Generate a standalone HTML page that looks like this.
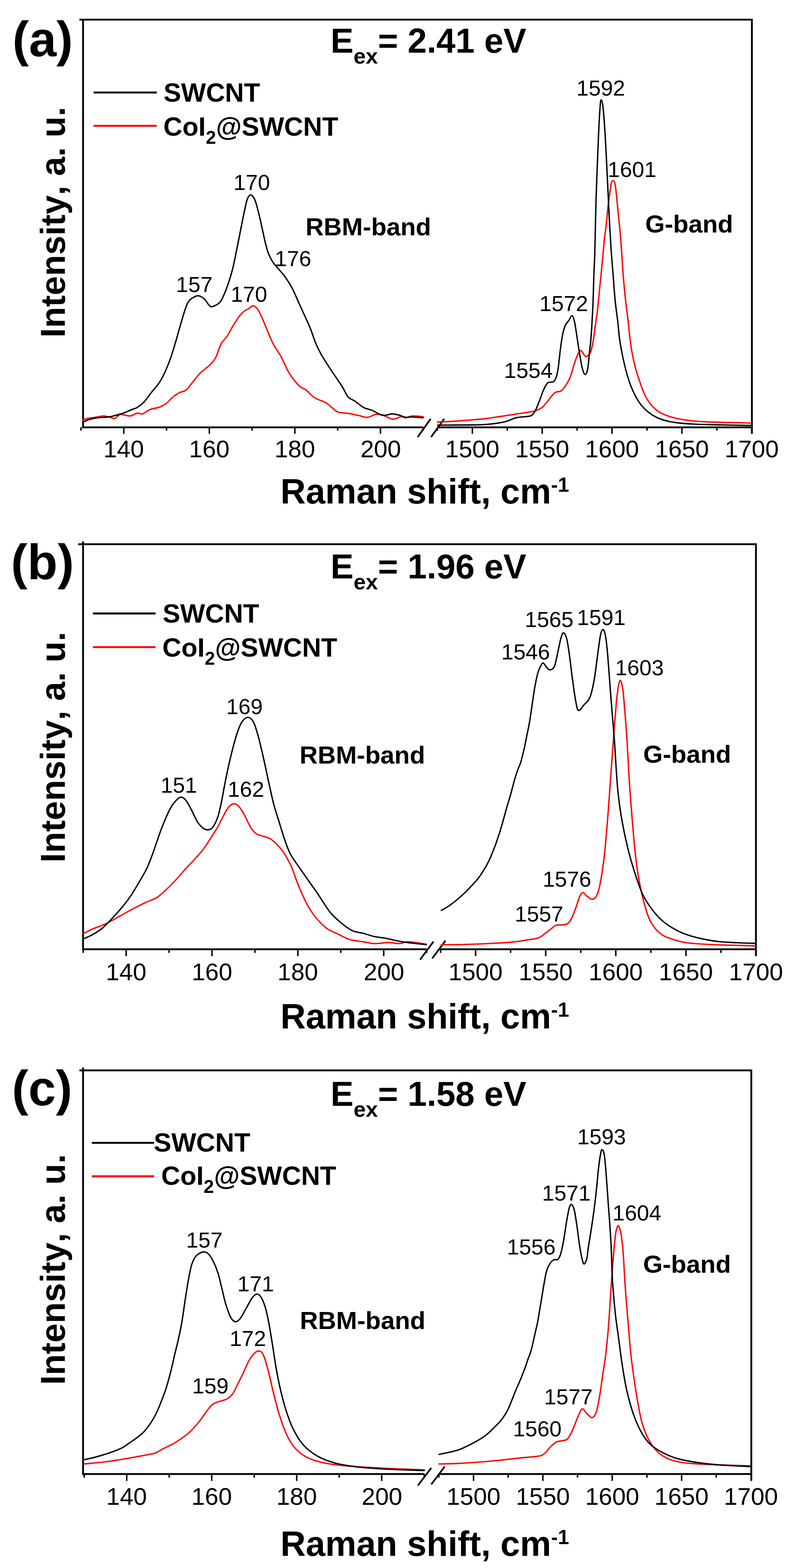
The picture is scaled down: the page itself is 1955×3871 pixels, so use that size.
<!DOCTYPE html><html><head><meta charset="utf-8"><title>Raman spectra</title><style>html,body{margin:0;padding:0;background:#fff;}body{width:1955px;height:3871px;}svg{display:block;}text{font-family:"Liberation Sans", Arial, sans-serif;font-kerning:none;fill:#000;}</style></head><body>
<svg width="1955" height="3871" viewBox="0 0 1955 3871">
<rect width="100%" height="100%" fill="#fff"/>
<line x1="196.0" y1="48.5" x2="1858.2" y2="48.5" stroke="#000" stroke-width="4.5" stroke-linecap="butt"/>
<line x1="205.0" y1="48.5" x2="205.0" y2="1057.2" stroke="#000" stroke-width="4.5" stroke-linecap="butt"/>
<line x1="1856.0" y1="48.5" x2="1856.0" y2="1071.0" stroke="#000" stroke-width="4.5" stroke-linecap="butt"/>
<line x1="202.8" y1="1055.0" x2="1044.5" y2="1055.0" stroke="#000" stroke-width="4.5" stroke-linecap="butt"/>
<line x1="1080.0" y1="1055.0" x2="1856.0" y2="1055.0" stroke="#000" stroke-width="4.5" stroke-linecap="butt"/>
<line x1="199.9" y1="1055.0" x2="199.9" y2="1063.0" stroke="#000" stroke-width="3.6" stroke-linecap="butt"/>
<line x1="305.5" y1="1055.0" x2="305.5" y2="1071.0" stroke="#000" stroke-width="3.6" stroke-linecap="butt"/>
<text x="255.3" y="1129.0" font-size="60.0">140</text>
<line x1="411.1" y1="1055.0" x2="411.1" y2="1063.0" stroke="#000" stroke-width="3.6" stroke-linecap="butt"/>
<line x1="516.7" y1="1055.0" x2="516.7" y2="1071.0" stroke="#000" stroke-width="3.6" stroke-linecap="butt"/>
<text x="466.5" y="1129.0" font-size="60.0">160</text>
<line x1="622.3" y1="1055.0" x2="622.3" y2="1063.0" stroke="#000" stroke-width="3.6" stroke-linecap="butt"/>
<line x1="727.9" y1="1055.0" x2="727.9" y2="1071.0" stroke="#000" stroke-width="3.6" stroke-linecap="butt"/>
<text x="677.7" y="1129.0" font-size="60.0">180</text>
<line x1="833.5" y1="1055.0" x2="833.5" y2="1063.0" stroke="#000" stroke-width="3.6" stroke-linecap="butt"/>
<line x1="939.1" y1="1055.0" x2="939.1" y2="1071.0" stroke="#000" stroke-width="3.6" stroke-linecap="butt"/>
<text x="889.7" y="1129.0" font-size="60.0">200</text>
<line x1="1044.7" y1="1055.0" x2="1044.7" y2="1063.0" stroke="#000" stroke-width="3.6" stroke-linecap="butt"/>
<line x1="1079.8" y1="1055.0" x2="1079.8" y2="1063.0" stroke="#000" stroke-width="3.6" stroke-linecap="butt"/>
<line x1="1166.0" y1="1055.0" x2="1166.0" y2="1071.0" stroke="#000" stroke-width="3.6" stroke-linecap="butt"/>
<text x="1099.1" y="1129.0" font-size="60.0">1500</text>
<line x1="1252.2" y1="1055.0" x2="1252.2" y2="1063.0" stroke="#000" stroke-width="3.6" stroke-linecap="butt"/>
<line x1="1338.4" y1="1055.0" x2="1338.4" y2="1071.0" stroke="#000" stroke-width="3.6" stroke-linecap="butt"/>
<text x="1271.6" y="1129.0" font-size="60.0">1550</text>
<line x1="1424.6" y1="1055.0" x2="1424.6" y2="1063.0" stroke="#000" stroke-width="3.6" stroke-linecap="butt"/>
<line x1="1510.8" y1="1055.0" x2="1510.8" y2="1071.0" stroke="#000" stroke-width="3.6" stroke-linecap="butt"/>
<text x="1444.0" y="1129.0" font-size="60.0">1600</text>
<line x1="1597.1" y1="1055.0" x2="1597.1" y2="1063.0" stroke="#000" stroke-width="3.6" stroke-linecap="butt"/>
<line x1="1683.3" y1="1055.0" x2="1683.3" y2="1071.0" stroke="#000" stroke-width="3.6" stroke-linecap="butt"/>
<text x="1616.4" y="1129.0" font-size="60.0">1650</text>
<line x1="1769.5" y1="1055.0" x2="1769.5" y2="1063.0" stroke="#000" stroke-width="3.6" stroke-linecap="butt"/>
<text x="1788.8" y="1129.0" font-size="60.0">1700</text>
<line x1="1031.0" y1="1079.0" x2="1063.0" y2="1034.0" stroke="#000" stroke-width="4.2" stroke-linecap="butt"/>
<line x1="1064.0" y1="1079.0" x2="1096.5" y2="1034.0" stroke="#000" stroke-width="4.2" stroke-linecap="butt"/>
<path d="M205.0,1036.5 C207.1,1035.9 212.4,1033.8 217.3,1032.8 C222.2,1031.8 228.3,1031.3 234.6,1030.3 C240.9,1029.3 249.5,1027.1 255.3,1026.9 C261.1,1026.7 264.6,1028.3 269.2,1029.3 C273.8,1030.3 278.4,1034.1 283.0,1033.1 C287.6,1032.1 290.5,1024.4 296.9,1023.4 C303.2,1022.4 314.2,1027.5 321.1,1026.9 C328.0,1026.3 333.2,1020.9 338.4,1020.0 C343.6,1019.1 347.0,1023.2 352.2,1021.7 C357.4,1020.2 362.6,1014.1 369.5,1011.3 C376.4,1008.5 386.8,1007.7 393.7,1005.1 C400.6,1002.5 405.8,999.6 411.0,995.7 C416.2,991.8 419.6,986.2 424.8,981.9 C430.0,977.6 436.3,973.0 442.1,969.8 C447.9,966.6 453.6,967.5 459.4,962.9 C465.2,958.3 470.9,949.0 476.7,942.1 C482.5,935.2 487.1,928.3 494.0,921.4 C500.9,914.5 511.9,907.0 518.2,900.6 C524.6,894.2 527.5,891.9 532.1,883.3 C536.7,874.6 541.3,857.4 545.9,848.7 C550.5,840.1 555.1,838.3 559.7,831.4 C564.3,824.5 568.4,815.7 573.6,807.2 C578.8,798.7 586.0,787.0 590.9,780.5 C595.8,774.0 599.1,771.1 603.0,768.0 C606.9,764.9 610.5,764.2 614.0,762.0 C617.5,759.8 620.6,755.1 624.0,755.0 C627.4,754.9 631.1,757.2 634.6,761.5 C638.1,765.8 641.5,773.3 645.0,780.5 C648.5,787.7 651.8,796.5 655.3,804.7 C658.8,813.0 662.2,822.1 665.7,830.0 C669.2,837.9 671.5,843.9 676.1,852.2 C680.7,860.5 687.1,868.4 693.4,879.9 C699.7,891.4 706.6,909.3 714.1,921.4 C721.6,933.5 731.5,945.6 738.4,952.5 C745.3,959.4 749.4,958.0 755.7,962.9 C762.0,967.8 768.3,976.7 776.4,981.9 C784.5,987.1 796.6,989.7 804.1,994.0 C811.6,998.3 816.2,1003.9 821.4,1007.8 C826.6,1011.7 828.3,1015.3 835.2,1017.5 C842.1,1019.7 854.2,1019.5 862.9,1021.0 C871.5,1022.5 879.6,1024.7 887.1,1026.2 C894.6,1027.8 900.9,1030.9 907.8,1030.3 C914.7,1029.7 921.7,1023.3 928.6,1022.7 C935.5,1022.1 942.5,1024.9 949.4,1026.9 C956.3,1028.9 963.2,1034.5 970.1,1034.8 C977.0,1035.1 985.7,1029.2 990.9,1028.6 C996.1,1028.0 996.6,1031.7 1001.2,1031.4 C1005.8,1031.1 1011.3,1027.4 1018.5,1026.9 C1025.7,1026.4 1040.2,1028.3 1044.5,1028.6" fill="none" stroke="#ff0000" stroke-width="3.4" stroke-linejoin="round" stroke-linecap="round"/>
<path d="M205.0,1042.4 C207.6,1041.2 214.7,1037.3 220.8,1035.5 C226.9,1033.7 233.4,1032.4 241.5,1031.4 C249.6,1030.4 261.7,1030.3 269.2,1029.3 C276.7,1028.2 280.2,1026.8 286.5,1025.1 C292.8,1023.4 300.9,1021.2 307.2,1018.9 C313.5,1016.6 319.3,1013.4 324.5,1011.3 C329.7,1009.2 333.2,1009.3 338.4,1006.1 C343.6,1002.9 349.9,998.3 355.7,992.3 C361.5,986.2 366.7,977.9 373.0,969.8 C379.3,961.7 387.9,952.5 393.7,943.9 C399.4,935.2 402.9,928.0 407.5,917.9 C412.1,907.8 416.8,896.5 421.4,883.3 C426.0,870.0 430.6,854.0 435.2,838.4 C439.8,822.8 444.4,804.9 449.0,789.9 C453.6,774.9 458.3,757.6 462.9,748.4 C467.5,739.2 472.1,737.6 476.7,734.6 C481.3,731.6 486.0,729.8 490.6,730.4 C495.2,731.0 500.4,734.4 504.4,738.0 C508.4,741.6 511.6,748.7 514.8,751.9 C518.0,755.1 518.8,758.0 523.4,757.1 C528.0,756.2 537.5,751.6 542.4,746.7 C547.3,741.8 549.3,735.3 552.8,727.7 C556.3,720.1 559.7,711.1 563.2,700.9 C566.7,690.7 570.7,677.2 573.6,666.3 C576.5,655.3 577.6,649.0 580.5,635.2 C583.4,621.4 587.4,600.6 590.9,583.3 C594.4,566.0 598.0,546.4 601.2,531.4 C604.4,516.4 607.1,501.8 609.9,493.4 C612.7,485.0 615.1,481.9 618.0,481.3 C620.9,480.7 624.7,485.0 627.5,489.9 C630.3,494.8 632.3,502.6 634.6,510.7 C636.9,518.8 639.2,528.6 641.5,538.4 C643.8,548.2 646.1,559.1 648.4,569.5 C650.7,579.9 653.0,591.4 655.3,600.6 C657.6,609.8 659.4,617.3 662.3,624.8 C665.2,632.3 668.6,639.2 672.6,645.6 C676.6,652.0 681.3,656.6 686.5,662.9 C691.7,669.2 698.0,675.5 703.8,683.6 C709.6,691.7 715.3,700.3 721.1,711.3 C726.9,722.3 732.6,736.7 738.4,749.4 C744.2,762.1 751.1,777.2 755.7,787.4 C760.3,797.6 762.0,800.5 766.0,810.7 C770.0,820.9 775.3,837.8 779.9,848.7 C784.5,859.7 788.5,867.2 793.7,876.4 C798.9,885.6 805.2,895.2 811.0,904.1 C816.8,913.0 822.5,921.4 828.3,930.0 C834.1,938.6 840.4,947.6 845.6,956.0 C850.8,964.4 854.2,974.4 859.4,980.2 C864.6,986.0 870.4,986.3 876.7,990.6 C883.1,994.9 890.6,1002.4 897.5,1006.1 C904.4,1009.8 911.3,1010.1 918.2,1013.0 C925.1,1015.9 933.2,1021.4 939.0,1023.4 C944.8,1025.4 948.2,1025.4 952.8,1025.1 C957.4,1024.8 961.5,1021.8 966.7,1021.7 C971.9,1021.6 978.1,1023.1 983.9,1024.5 C989.6,1025.9 996.0,1029.5 1001.2,1030.3 C1006.4,1031.1 1007.9,1029.1 1015.1,1029.3 C1022.3,1029.5 1039.6,1031.1 1044.5,1031.4" fill="none" stroke="#000000" stroke-width="3.4" stroke-linejoin="round" stroke-linecap="round"/>
<path d="M1080.0,1041.8 C1086.7,1041.5 1106.7,1040.8 1120.0,1040.0 C1133.3,1039.2 1146.7,1038.1 1160.0,1037.0 C1173.3,1035.9 1187.6,1034.8 1200.0,1033.3 C1212.4,1031.8 1223.1,1029.9 1234.6,1028.2 C1246.1,1026.5 1257.7,1024.7 1269.2,1023.0 C1280.7,1021.3 1295.2,1019.2 1303.8,1017.8 C1312.4,1016.3 1315.3,1016.3 1321.1,1014.3 C1326.9,1012.3 1333.2,1009.7 1338.4,1005.7 C1343.6,1001.7 1347.0,996.2 1352.2,990.1 C1357.4,984.0 1364.3,973.4 1369.5,969.4 C1374.7,965.4 1379.3,968.2 1383.3,965.9 C1387.3,963.6 1389.7,961.3 1393.7,955.5 C1397.7,949.7 1403.5,941.1 1407.5,931.3 C1411.5,921.5 1414.4,906.8 1417.9,896.7 C1421.4,886.6 1425.4,875.9 1428.3,870.8 C1431.2,865.7 1432.3,864.8 1435.2,866.3 C1438.1,867.8 1442.1,879.1 1445.6,880.1 C1449.1,881.1 1453.5,875.9 1456.0,872.5 C1458.5,869.1 1459.1,865.4 1460.5,860.0 C1461.9,854.6 1463.3,848.0 1464.6,840.0 C1465.9,832.0 1466.7,823.9 1468.3,812.1 C1469.9,800.3 1472.6,784.5 1474.4,769.1 C1476.2,753.7 1477.8,736.3 1479.4,719.9 C1481.1,703.5 1482.9,684.9 1484.3,670.7 C1485.7,656.6 1486.7,646.8 1487.8,635.0 C1488.9,623.2 1490.1,609.0 1491.0,600.0 C1491.9,591.0 1492.3,587.4 1493.1,580.7 C1493.9,574.0 1495.1,566.8 1495.9,559.8 C1496.7,552.8 1497.2,547.0 1498.0,538.8 C1498.8,530.6 1499.8,519.0 1500.7,510.8 C1501.6,502.7 1502.6,496.9 1503.5,489.9 C1504.4,482.9 1505.4,475.3 1506.3,468.9 C1507.2,462.5 1507.9,455.2 1509.1,451.4 C1510.3,447.6 1511.9,445.9 1513.3,445.9 C1514.7,445.9 1516.3,447.6 1517.5,451.4 C1518.7,455.2 1519.5,462.5 1520.3,468.9 C1521.1,475.3 1521.7,482.9 1522.4,489.9 C1523.1,496.9 1523.8,503.8 1524.5,510.8 C1525.2,517.8 1525.9,524.8 1526.6,531.8 C1527.3,538.8 1528.0,545.8 1528.7,552.8 C1529.4,559.8 1530.1,565.8 1530.8,573.7 C1531.5,581.6 1532.3,592.0 1532.9,600.0 C1533.5,608.0 1533.5,607.7 1534.5,621.5 C1535.5,635.3 1536.9,662.5 1538.6,683.0 C1540.3,703.5 1542.5,726.0 1544.5,744.5 C1546.5,763.0 1548.9,777.8 1550.7,793.7 C1552.5,809.6 1553.9,826.5 1555.6,840.0 C1557.3,853.5 1558.9,863.7 1561.0,875.0 C1563.1,886.3 1565.5,897.0 1568.3,907.6 C1571.1,918.2 1574.5,928.1 1577.9,938.4 C1581.4,948.6 1585.0,960.1 1589.0,969.1 C1593.0,978.1 1596.8,985.2 1601.8,992.2 C1606.8,999.2 1613.6,1006.6 1619.1,1011.4 C1624.5,1016.2 1628.7,1018.1 1634.5,1021.0 C1640.3,1023.9 1645.7,1026.3 1653.7,1028.7 C1661.7,1031.1 1673.0,1033.7 1682.6,1035.4 C1692.2,1037.2 1700.2,1038.2 1711.4,1039.2 C1722.6,1040.2 1726.2,1040.8 1749.8,1041.7 C1773.4,1042.6 1836.0,1044.0 1853.3,1044.4" fill="none" stroke="#ff0000" stroke-width="3.4" stroke-linejoin="round" stroke-linecap="round"/>
<path d="M1080.0,1049.6 C1086.7,1049.5 1106.0,1049.4 1120.0,1049.3 C1134.0,1049.2 1150.7,1049.2 1164.0,1049.0 C1177.3,1048.8 1189.4,1048.6 1200.0,1047.9 C1210.6,1047.2 1219.0,1046.2 1227.7,1044.8 C1236.4,1043.4 1244.4,1041.8 1251.9,1039.6 C1259.4,1037.4 1266.3,1033.3 1272.6,1031.6 C1278.9,1029.9 1283.6,1030.1 1289.9,1029.2 C1296.2,1028.3 1305.5,1028.9 1310.7,1026.4 C1315.9,1023.9 1317.6,1020.3 1321.1,1014.3 C1324.5,1008.2 1328.0,998.8 1331.4,990.1 C1334.9,981.5 1338.3,969.9 1341.8,962.4 C1345.3,954.9 1348.2,948.4 1352.2,945.1 C1356.2,941.8 1362.5,944.7 1366.0,942.4 C1369.5,940.1 1371.0,937.2 1373.0,931.3 C1375.0,925.4 1376.4,918.6 1378.1,907.1 C1379.8,895.6 1381.6,875.4 1383.3,862.1 C1385.0,848.8 1386.5,837.3 1388.5,827.5 C1390.5,817.7 1392.8,809.3 1395.4,803.3 C1398.0,797.2 1401.4,795.2 1404.1,791.2 C1406.8,787.2 1409.4,778.8 1411.7,779.1 C1414.0,779.4 1416.0,785.5 1417.9,793.0 C1419.8,800.5 1421.1,811.4 1423.1,824.1 C1425.1,836.8 1427.7,855.2 1430.0,869.0 C1432.3,882.8 1434.6,897.9 1436.9,907.1 C1439.2,916.3 1441.6,923.8 1443.9,924.4 C1446.2,925.0 1448.9,920.5 1450.8,910.6 C1452.7,900.7 1454.2,876.8 1455.5,865.0 C1456.8,853.2 1457.4,851.9 1458.4,840.0 C1459.4,828.1 1460.6,809.6 1461.5,793.7 C1462.4,777.8 1463.3,763.0 1464.0,744.5 C1464.7,726.0 1465.1,703.5 1465.8,683.0 C1466.5,662.5 1467.4,653.5 1468.3,621.5 C1469.2,589.5 1470.0,536.1 1471.4,491.3 C1472.8,446.5 1475.0,390.4 1476.6,352.9 C1478.2,315.4 1479.8,284.2 1481.1,266.5 C1482.4,248.8 1482.9,246.4 1484.2,246.4 C1485.5,246.4 1487.1,251.6 1488.7,266.5 C1490.3,281.4 1492.3,309.8 1493.9,335.7 C1495.5,361.6 1497.0,393.3 1498.4,422.1 C1499.8,450.9 1501.4,485.6 1502.5,508.6 C1503.6,531.6 1504.1,541.2 1505.2,560.0 C1506.3,578.8 1507.5,601.0 1508.9,621.5 C1510.3,642.0 1512.2,662.5 1513.8,683.0 C1515.4,703.5 1516.8,726.0 1518.7,744.5 C1520.6,763.0 1523.1,777.8 1524.9,793.7 C1526.8,809.6 1527.5,824.5 1529.8,840.0 C1532.0,855.5 1535.4,872.4 1538.4,886.5 C1541.4,900.6 1544.8,913.7 1548.0,924.9 C1551.2,936.1 1554.1,944.7 1557.6,953.7 C1561.1,962.7 1565.0,971.0 1569.2,978.7 C1573.4,986.4 1577.5,993.4 1582.6,999.8 C1587.7,1006.2 1593.5,1012.0 1599.9,1017.1 C1606.3,1022.2 1613.4,1026.9 1621.1,1030.6 C1628.8,1034.3 1637.3,1037.0 1646.0,1039.2 C1654.7,1041.4 1662.1,1042.7 1673.0,1044.0 C1683.9,1045.3 1698.6,1046.2 1711.4,1046.9 C1724.2,1047.6 1726.2,1047.7 1749.8,1048.3 C1773.4,1048.9 1836.0,1050.1 1853.3,1050.4" fill="none" stroke="#000000" stroke-width="3.4" stroke-linejoin="round" stroke-linecap="round"/>
<line x1="231.0" y1="228.3" x2="387.0" y2="228.3" stroke="#000" stroke-width="4.8" stroke-linecap="butt"/>
<line x1="231.0" y1="310.7" x2="387.0" y2="310.7" stroke="#ff0000" stroke-width="4.8" stroke-linecap="butt"/>
<text x="403.7" y="250.8" font-size="65.0" font-weight="bold">SWCNT</text>
<text x="403.2" y="334.5" font-size="65" font-weight="bold">CoI<tspan font-size="45.5" dy="20">2</tspan><tspan dy="-20">@SWCNT</tspan></text>
<text x="816.1" y="130.3" font-size="85" font-weight="bold">E<tspan font-size="54" dy="27">ex</tspan><tspan dy="-27">= 2.41 eV</tspan></text>
<text x="30.8" y="138.5" font-size="122.0" font-weight="bold">(a)</text>
<text transform="translate(160,548.5) rotate(-90)" text-anchor="middle" font-size="85.5" font-weight="bold">Intensity, a. u.</text>
<text x="692.2" y="1243.3" font-size="86.5" font-weight="bold">Raman shift, cm<tspan font-size="50" dy="-29">-1</tspan></text>
<text x="754.3" y="580.6" font-size="62.0" font-weight="bold">RBM-band</text>
<text x="1592.7" y="574.3" font-size="62.0" font-weight="bold">G-band</text>
<text x="576.4" y="468.7" font-size="54.0">170</text>
<text x="434.6" y="720.5" font-size="54.0">157</text>
<text x="678.2" y="657.2" font-size="54.0">176</text>
<text x="569.5" y="745.4" font-size="54.0">170</text>
<text x="1423.0" y="235.5" font-size="54.0">1592</text>
<text x="1500.1" y="437.2" font-size="54.0">1601</text>
<text x="1331.5" y="768.2" font-size="54.0">1572</text>
<text x="1244.3" y="932.5" font-size="54.0">1554</text>
<line x1="193.0" y1="1343.4" x2="1868.2" y2="1343.4" stroke="#000" stroke-width="4.5" stroke-linecap="butt"/>
<line x1="205.0" y1="1336.4" x2="205.0" y2="2345.8" stroke="#000" stroke-width="4.5" stroke-linecap="butt"/>
<line x1="1866.0" y1="1343.4" x2="1866.0" y2="2360.5" stroke="#000" stroke-width="4.5" stroke-linecap="butt"/>
<line x1="202.8" y1="2343.5" x2="1052.5" y2="2343.5" stroke="#000" stroke-width="4.5" stroke-linecap="butt"/>
<line x1="1087.5" y1="2343.5" x2="1866.0" y2="2343.5" stroke="#000" stroke-width="4.5" stroke-linecap="butt"/>
<line x1="205.4" y1="2343.5" x2="205.4" y2="2352.5" stroke="#000" stroke-width="3.6" stroke-linecap="butt"/>
<line x1="311.4" y1="2343.5" x2="311.4" y2="2360.5" stroke="#000" stroke-width="3.6" stroke-linecap="butt"/>
<text x="261.2" y="2419.8" font-size="60.0">140</text>
<line x1="417.4" y1="2343.5" x2="417.4" y2="2352.5" stroke="#000" stroke-width="3.6" stroke-linecap="butt"/>
<line x1="523.3" y1="2343.5" x2="523.3" y2="2360.5" stroke="#000" stroke-width="3.6" stroke-linecap="butt"/>
<text x="473.2" y="2419.8" font-size="60.0">160</text>
<line x1="629.3" y1="2343.5" x2="629.3" y2="2352.5" stroke="#000" stroke-width="3.6" stroke-linecap="butt"/>
<line x1="735.3" y1="2343.5" x2="735.3" y2="2360.5" stroke="#000" stroke-width="3.6" stroke-linecap="butt"/>
<text x="685.1" y="2419.8" font-size="60.0">180</text>
<line x1="841.2" y1="2343.5" x2="841.2" y2="2352.5" stroke="#000" stroke-width="3.6" stroke-linecap="butt"/>
<line x1="947.2" y1="2343.5" x2="947.2" y2="2360.5" stroke="#000" stroke-width="3.6" stroke-linecap="butt"/>
<text x="897.8" y="2419.8" font-size="60.0">200</text>
<line x1="1053.2" y1="2343.5" x2="1053.2" y2="2352.5" stroke="#000" stroke-width="3.6" stroke-linecap="butt"/>
<line x1="1087.5" y1="2343.5" x2="1087.5" y2="2352.5" stroke="#000" stroke-width="3.6" stroke-linecap="butt"/>
<line x1="1174.0" y1="2343.5" x2="1174.0" y2="2360.5" stroke="#000" stroke-width="3.6" stroke-linecap="butt"/>
<text x="1107.1" y="2419.8" font-size="60.0">1500</text>
<line x1="1260.5" y1="2343.5" x2="1260.5" y2="2352.5" stroke="#000" stroke-width="3.6" stroke-linecap="butt"/>
<line x1="1347.0" y1="2343.5" x2="1347.0" y2="2360.5" stroke="#000" stroke-width="3.6" stroke-linecap="butt"/>
<text x="1280.2" y="2419.8" font-size="60.0">1550</text>
<line x1="1433.6" y1="2343.5" x2="1433.6" y2="2352.5" stroke="#000" stroke-width="3.6" stroke-linecap="butt"/>
<line x1="1520.1" y1="2343.5" x2="1520.1" y2="2360.5" stroke="#000" stroke-width="3.6" stroke-linecap="butt"/>
<text x="1453.2" y="2419.8" font-size="60.0">1600</text>
<line x1="1606.6" y1="2343.5" x2="1606.6" y2="2352.5" stroke="#000" stroke-width="3.6" stroke-linecap="butt"/>
<line x1="1693.2" y1="2343.5" x2="1693.2" y2="2360.5" stroke="#000" stroke-width="3.6" stroke-linecap="butt"/>
<text x="1626.3" y="2419.8" font-size="60.0">1650</text>
<line x1="1779.7" y1="2343.5" x2="1779.7" y2="2352.5" stroke="#000" stroke-width="3.6" stroke-linecap="butt"/>
<text x="1799.3" y="2419.8" font-size="60.0">1700</text>
<line x1="1037.0" y1="2369.0" x2="1070.0" y2="2324.6" stroke="#000" stroke-width="4.2" stroke-linecap="butt"/>
<line x1="1067.0" y1="2366.0" x2="1099.6" y2="2322.3" stroke="#000" stroke-width="4.2" stroke-linecap="butt"/>
<path d="M205.2,2305.3 C208.9,2303.4 218.2,2298.1 227.7,2293.9 C237.2,2289.7 250.8,2285.5 262.3,2280.0 C273.8,2274.5 285.4,2267.3 296.9,2261.0 C308.4,2254.7 321.0,2247.5 331.4,2242.0 C341.8,2236.5 349.9,2232.4 359.1,2228.1 C368.3,2223.8 378.7,2220.9 386.8,2216.0 C394.9,2211.1 399.4,2206.2 407.5,2198.7 C415.6,2191.2 426.8,2180.0 435.2,2171.1 C443.6,2162.2 451.1,2152.6 458.0,2145.0 C464.9,2137.4 469.6,2133.4 476.7,2125.5 C483.8,2117.6 493.4,2107.6 500.9,2097.8 C508.4,2088.0 516.5,2074.7 521.7,2066.7 C526.9,2058.7 529.5,2054.1 532.1,2050.0 C534.7,2046.0 534.3,2047.7 537.2,2042.4 C540.1,2037.1 545.1,2026.3 549.4,2018.2 C553.7,2010.1 558.6,1999.7 563.2,1994.0 C567.8,1988.3 572.4,1984.6 577.0,1984.3 C581.6,1984.0 586.3,1987.2 590.9,1992.3 C595.5,1997.4 600.1,2006.4 604.7,2014.8 C609.3,2023.2 613.9,2035.2 618.5,2042.4 C623.1,2049.6 628.0,2054.5 632.4,2058.0 C636.8,2061.5 639.5,2061.2 645.0,2063.2 C650.5,2065.2 659.4,2066.6 665.7,2070.1 C672.0,2073.6 677.2,2078.1 683.0,2083.9 C688.8,2089.7 695.1,2097.2 700.3,2104.7 C705.5,2112.2 710.5,2122.0 714.1,2128.9 C717.7,2135.8 718.1,2136.1 722.0,2146.0 C725.9,2155.9 731.5,2173.8 737.6,2188.4 C743.7,2203.0 751.5,2220.6 758.4,2233.3 C765.3,2246.0 771.0,2254.7 779.1,2264.5 C787.2,2274.3 797.6,2285.2 806.8,2292.1 C816.0,2299.0 825.3,2301.5 834.5,2306.0 C843.7,2310.5 851.7,2315.9 862.1,2319.1 C872.5,2322.3 886.3,2323.3 896.7,2325.0 C907.1,2326.7 914.0,2329.2 924.4,2329.5 C934.8,2329.8 948.6,2326.7 959.0,2326.7 C969.4,2326.7 978.6,2329.8 986.7,2329.5 C994.8,2329.2 996.4,2324.8 1007.4,2325.0 C1018.4,2325.2 1044.9,2330.0 1052.4,2331.0" fill="none" stroke="#ff0000" stroke-width="3.4" stroke-linejoin="round" stroke-linecap="round"/>
<path d="M205.2,2318.1 C208.9,2316.4 219.9,2312.0 227.7,2307.7 C235.5,2303.4 243.8,2298.7 251.9,2292.1 C260.0,2285.5 267.5,2277.1 276.1,2267.9 C284.8,2258.7 295.7,2246.6 303.8,2236.8 C311.9,2227.0 317.6,2219.5 324.5,2209.1 C331.4,2198.7 338.9,2185.4 345.3,2174.5 C351.7,2163.6 357.4,2154.3 362.6,2143.4 C367.8,2132.5 372.1,2120.3 376.4,2108.8 C380.7,2097.3 385.0,2084.1 388.5,2074.2 C392.0,2064.3 392.9,2060.5 397.2,2049.4 C401.5,2038.3 409.3,2018.8 414.5,2007.8 C419.7,1996.8 423.1,1990.2 428.3,1983.6 C433.5,1977.0 440.4,1969.2 445.6,1968.1 C450.8,1966.9 454.8,1971.2 459.4,1976.7 C464.0,1982.2 468.7,1992.2 473.3,2000.9 C477.9,2009.6 482.5,2021.4 487.1,2028.6 C491.7,2035.8 496.6,2040.9 500.9,2044.2 C505.2,2047.5 509.0,2049.0 513.0,2048.7 C517.0,2048.4 521.1,2047.5 525.1,2042.4 C529.1,2037.3 533.7,2028.0 537.2,2018.2 C540.7,2008.4 542.7,1998.6 545.9,1983.6 C549.1,1968.6 552.8,1945.6 556.3,1928.3 C559.8,1911.0 563.2,1894.9 566.7,1879.9 C570.2,1864.9 573.5,1851.1 577.0,1838.4 C580.5,1825.7 583.9,1813.3 587.4,1803.8 C590.9,1794.3 593.7,1786.8 597.8,1781.3 C601.9,1775.8 607.3,1770.9 611.8,1770.9 C616.3,1770.9 621.1,1775.0 625.0,1781.3 C628.9,1787.6 631.7,1798.0 635.0,1809.0 C638.3,1820.0 641.4,1832.9 644.8,1847.0 C648.2,1861.1 651.8,1877.9 655.3,1893.7 C658.8,1909.5 662.2,1926.5 665.7,1942.1 C669.2,1957.7 672.1,1972.1 676.1,1987.1 C680.1,2002.1 685.4,2017.4 689.9,2032.1 C694.4,2046.8 698.9,2062.2 703.4,2075.0 C707.9,2087.8 711.2,2098.0 716.9,2108.8 C722.6,2119.6 730.1,2129.0 737.6,2139.9 C745.1,2150.8 753.7,2163.0 761.8,2174.5 C769.9,2186.0 777.4,2196.4 786.0,2209.1 C794.6,2221.8 805.1,2239.6 813.7,2250.6 C822.4,2261.6 828.7,2267.0 837.9,2274.8 C847.1,2282.6 859.2,2292.4 869.0,2297.3 C878.8,2302.2 887.5,2301.7 896.7,2304.2 C905.9,2306.7 915.2,2310.2 924.4,2312.2 C933.6,2314.2 942.3,2314.5 952.1,2316.3 C961.9,2318.2 972.2,2321.3 983.2,2323.3 C994.2,2325.3 1006.3,2327.0 1017.8,2328.4 C1029.3,2329.8 1046.6,2331.4 1052.4,2332.0" fill="none" stroke="#000000" stroke-width="3.4" stroke-linejoin="round" stroke-linecap="round"/>
<path d="M1089.0,2332.4 C1098.6,2332.3 1125.4,2332.3 1146.5,2331.7 C1167.6,2331.1 1195.5,2329.9 1215.7,2328.9 C1235.9,2327.9 1253.1,2326.9 1267.5,2325.5 C1281.9,2324.1 1291.7,2322.0 1302.1,2320.3 C1312.5,2318.6 1322.3,2318.0 1329.8,2315.1 C1337.3,2312.2 1341.9,2306.8 1347.1,2303.0 C1352.3,2299.2 1356.6,2295.8 1360.9,2292.6 C1365.2,2289.4 1368.4,2285.6 1373.0,2284.0 C1377.6,2282.4 1384.0,2283.9 1388.6,2283.3 C1393.2,2282.7 1397.2,2282.7 1400.7,2280.5 C1404.2,2278.3 1406.2,2275.9 1409.4,2270.1 C1412.6,2264.3 1416.0,2255.7 1419.7,2245.9 C1423.4,2236.1 1428.5,2218.3 1431.8,2211.3 C1435.1,2204.3 1437.2,2203.7 1439.8,2203.7 C1442.4,2203.7 1443.8,2208.6 1447.4,2211.3 C1451.0,2214.0 1457.2,2219.7 1461.2,2220.0 C1465.2,2220.3 1468.4,2218.5 1471.6,2213.0 C1474.8,2207.5 1477.1,2202.1 1480.3,2187.1 C1483.5,2172.1 1487.6,2146.3 1490.5,2123.0 C1493.4,2099.7 1495.6,2071.8 1497.8,2047.0 C1500.0,2022.2 1502.0,1993.5 1503.5,1974.0 C1505.0,1954.5 1505.5,1944.0 1506.5,1930.0 C1507.5,1916.0 1508.4,1904.5 1509.5,1890.0 C1510.6,1875.5 1511.5,1862.5 1513.0,1843.2 C1514.5,1823.9 1516.5,1795.3 1518.2,1774.0 C1519.9,1752.7 1521.4,1730.9 1523.4,1715.2 C1525.4,1699.5 1528.0,1682.2 1530.3,1679.9 C1532.6,1677.6 1535.2,1688.6 1537.2,1701.4 C1539.2,1714.2 1540.7,1736.0 1542.4,1756.7 C1544.1,1777.5 1546.0,1801.2 1547.6,1825.9 C1549.2,1850.6 1550.5,1879.8 1552.0,1905.0 C1553.5,1930.2 1554.8,1949.6 1556.9,1976.9 C1559.0,2004.2 1562.0,2041.9 1564.5,2069.1 C1567.0,2096.2 1568.9,2116.7 1572.2,2139.8 C1575.5,2162.9 1579.4,2186.0 1584.5,2207.5 C1589.6,2229.0 1595.8,2253.1 1603.0,2269.0 C1610.2,2284.9 1618.4,2294.6 1627.6,2302.8 C1636.8,2311.0 1647.0,2314.0 1658.3,2318.1 C1669.6,2322.2 1678.8,2325.1 1695.2,2327.4 C1711.6,2329.7 1728.5,2330.7 1756.7,2332.0 C1784.9,2333.3 1846.4,2334.5 1864.3,2335.0" fill="none" stroke="#ff0000" stroke-width="3.4" stroke-linejoin="round" stroke-linecap="round"/>
<path d="M1089.4,2247.6 C1093.2,2245.3 1103.5,2239.9 1111.9,2233.8 C1120.3,2227.8 1130.9,2219.1 1139.6,2211.3 C1148.2,2203.5 1156.3,2195.2 1163.8,2187.1 C1171.3,2179.0 1177.6,2172.7 1184.5,2162.9 C1191.4,2153.1 1199.0,2141.0 1205.3,2128.3 C1211.6,2115.6 1217.4,2100.6 1222.6,2086.8 C1227.8,2073.0 1231.7,2060.7 1236.4,2045.3 C1241.1,2029.9 1246.9,2007.5 1250.7,1994.3 C1254.5,1981.1 1256.4,1975.6 1259.1,1966.3 C1261.8,1957.0 1264.3,1946.9 1266.6,1938.4 C1268.9,1929.9 1270.9,1922.1 1273.1,1915.1 C1275.3,1908.1 1277.6,1901.9 1279.6,1896.5 C1281.6,1891.1 1282.9,1890.3 1285.2,1882.5 C1287.5,1874.7 1290.9,1861.6 1293.6,1849.9 C1296.2,1838.2 1298.8,1824.2 1301.1,1812.6 C1303.4,1800.9 1304.6,1798.5 1307.6,1780.0 C1310.6,1761.5 1315.9,1721.4 1319.3,1701.4 C1322.7,1681.4 1325.1,1670.0 1328.0,1659.9 C1330.9,1649.8 1334.3,1644.5 1336.6,1640.8 C1338.9,1637.0 1339.2,1635.7 1341.8,1637.4 C1344.4,1639.1 1349.0,1648.6 1352.2,1651.2 C1355.4,1653.8 1357.9,1654.4 1360.8,1653.0 C1363.7,1651.6 1366.6,1650.7 1369.5,1642.6 C1372.4,1634.5 1375.5,1616.0 1378.1,1604.5 C1380.7,1593.0 1382.9,1580.4 1385.1,1573.4 C1387.3,1566.4 1389.0,1561.7 1391.3,1562.3 C1393.6,1562.9 1396.5,1567.6 1398.9,1576.9 C1401.3,1586.2 1403.5,1602.3 1405.8,1618.4 C1408.1,1634.5 1410.1,1654.7 1412.7,1673.7 C1415.3,1692.7 1418.8,1719.1 1421.4,1732.5 C1424.0,1745.9 1424.8,1752.8 1428.3,1754.0 C1431.8,1755.2 1437.5,1744.7 1442.1,1739.4 C1446.7,1734.1 1452.0,1731.9 1456.0,1722.1 C1460.0,1712.3 1463.1,1697.9 1466.3,1680.6 C1469.5,1663.3 1472.4,1636.9 1475.0,1618.4 C1477.6,1600.0 1479.8,1580.6 1481.9,1569.9 C1484.0,1559.2 1485.8,1555.0 1487.8,1554.4 C1489.8,1553.8 1492.1,1557.6 1494.0,1566.5 C1495.9,1575.4 1497.5,1590.1 1499.2,1608.0 C1500.9,1625.9 1502.7,1651.2 1504.4,1673.7 C1506.1,1696.2 1507.6,1717.5 1509.6,1742.9 C1511.6,1768.3 1514.5,1798.9 1516.5,1825.9 C1518.5,1852.9 1519.9,1882.4 1521.5,1905.0 C1523.1,1927.6 1524.0,1942.9 1526.1,1961.5 C1528.1,1980.1 1530.7,1998.3 1533.8,2016.8 C1536.9,2035.2 1540.8,2054.8 1544.6,2072.2 C1548.4,2089.6 1552.3,2105.0 1556.9,2121.4 C1561.5,2137.8 1567.1,2155.8 1572.2,2170.6 C1577.3,2185.4 1581.4,2198.2 1587.6,2210.5 C1593.8,2222.8 1601.4,2234.2 1609.1,2244.4 C1616.8,2254.7 1624.5,2263.8 1633.7,2272.0 C1642.9,2280.2 1654.2,2287.6 1664.5,2293.5 C1674.8,2299.4 1683.9,2303.4 1695.2,2307.4 C1706.5,2311.4 1719.3,2314.7 1732.1,2317.5 C1744.9,2320.3 1757.8,2322.7 1772.1,2324.3 C1786.4,2326.0 1802.8,2326.6 1818.2,2327.4 C1833.6,2328.2 1856.6,2328.7 1864.3,2328.9" fill="none" stroke="#000000" stroke-width="3.4" stroke-linejoin="round" stroke-linecap="round"/>
<line x1="229.3" y1="1514.5" x2="384.0" y2="1514.5" stroke="#000" stroke-width="4.8" stroke-linecap="butt"/>
<line x1="229.3" y1="1597.7" x2="384.0" y2="1597.7" stroke="#ff0000" stroke-width="4.8" stroke-linecap="butt"/>
<text x="401.5" y="1537.0" font-size="65.0" font-weight="bold">SWCNT</text>
<text x="400.7" y="1620.5" font-size="65" font-weight="bold">CoI<tspan font-size="45.5" dy="20">2</tspan><tspan dy="-20">@SWCNT</tspan></text>
<text x="816.1" y="1428.2" font-size="85" font-weight="bold">E<tspan font-size="54" dy="27">ex</tspan><tspan dy="-27">= 1.96 eV</tspan></text>
<text x="26.9" y="1430.3" font-size="122.0" font-weight="bold">(b)</text>
<text transform="translate(160,1844.5) rotate(-90)" text-anchor="middle" font-size="85.5" font-weight="bold">Intensity, a. u.</text>
<text x="692.2" y="2538.7" font-size="86.5" font-weight="bold">Raman shift, cm<tspan font-size="50" dy="-29">-1</tspan></text>
<text x="739.4" y="1885.0" font-size="62.0" font-weight="bold">RBM-band</text>
<text x="1587.7" y="1883.0" font-size="62.0" font-weight="bold">G-band</text>
<text x="558.4" y="1762.8" font-size="54.0">169</text>
<text x="396.5" y="1956.5" font-size="54.0">151</text>
<text x="561.9" y="1966.9" font-size="54.0">162</text>
<text x="1237.4" y="1627.5" font-size="54.0">1546</text>
<text x="1295.5" y="1547.6" font-size="54.0">1565</text>
<text x="1424.2" y="1542.5" font-size="54.0">1591</text>
<text x="1518.3" y="1667.3" font-size="54.0">1603</text>
<text x="1339.5" y="2189.4" font-size="54.0">1576</text>
<text x="1270.4" y="2274.8" font-size="54.0">1557</text>
<line x1="196.0" y1="2642.6" x2="1856.8" y2="2642.6" stroke="#000" stroke-width="4.5" stroke-linecap="butt"/>
<line x1="205.0" y1="2635.6" x2="205.0" y2="3641.2" stroke="#000" stroke-width="4.5" stroke-linecap="butt"/>
<line x1="1854.5" y1="2642.6" x2="1854.5" y2="3656.0" stroke="#000" stroke-width="4.5" stroke-linecap="butt"/>
<line x1="202.8" y1="3639.0" x2="1047.7" y2="3639.0" stroke="#000" stroke-width="4.5" stroke-linecap="butt"/>
<line x1="1085.0" y1="3639.0" x2="1854.5" y2="3639.0" stroke="#000" stroke-width="4.5" stroke-linecap="butt"/>
<line x1="207.9" y1="3639.0" x2="207.9" y2="3648.0" stroke="#000" stroke-width="3.6" stroke-linecap="butt"/>
<line x1="312.8" y1="3639.0" x2="312.8" y2="3656.0" stroke="#000" stroke-width="3.6" stroke-linecap="butt"/>
<text x="262.6" y="3715.0" font-size="60.0">140</text>
<line x1="417.7" y1="3639.0" x2="417.7" y2="3648.0" stroke="#000" stroke-width="3.6" stroke-linecap="butt"/>
<line x1="522.6" y1="3639.0" x2="522.6" y2="3656.0" stroke="#000" stroke-width="3.6" stroke-linecap="butt"/>
<text x="472.4" y="3715.0" font-size="60.0">160</text>
<line x1="627.5" y1="3639.0" x2="627.5" y2="3648.0" stroke="#000" stroke-width="3.6" stroke-linecap="butt"/>
<line x1="732.4" y1="3639.0" x2="732.4" y2="3656.0" stroke="#000" stroke-width="3.6" stroke-linecap="butt"/>
<text x="682.2" y="3715.0" font-size="60.0">180</text>
<line x1="837.3" y1="3639.0" x2="837.3" y2="3648.0" stroke="#000" stroke-width="3.6" stroke-linecap="butt"/>
<line x1="942.2" y1="3639.0" x2="942.2" y2="3656.0" stroke="#000" stroke-width="3.6" stroke-linecap="butt"/>
<text x="892.8" y="3715.0" font-size="60.0">200</text>
<line x1="1047.1" y1="3639.0" x2="1047.1" y2="3648.0" stroke="#000" stroke-width="3.6" stroke-linecap="butt"/>
<line x1="1083.2" y1="3639.0" x2="1083.2" y2="3648.0" stroke="#000" stroke-width="3.6" stroke-linecap="butt"/>
<line x1="1168.8" y1="3639.0" x2="1168.8" y2="3656.0" stroke="#000" stroke-width="3.6" stroke-linecap="butt"/>
<text x="1101.9" y="3715.0" font-size="60.0">1500</text>
<line x1="1254.4" y1="3639.0" x2="1254.4" y2="3648.0" stroke="#000" stroke-width="3.6" stroke-linecap="butt"/>
<line x1="1340.0" y1="3639.0" x2="1340.0" y2="3656.0" stroke="#000" stroke-width="3.6" stroke-linecap="butt"/>
<text x="1273.2" y="3715.0" font-size="60.0">1550</text>
<line x1="1425.6" y1="3639.0" x2="1425.6" y2="3648.0" stroke="#000" stroke-width="3.6" stroke-linecap="butt"/>
<line x1="1511.2" y1="3639.0" x2="1511.2" y2="3656.0" stroke="#000" stroke-width="3.6" stroke-linecap="butt"/>
<text x="1444.4" y="3715.0" font-size="60.0">1600</text>
<line x1="1596.9" y1="3639.0" x2="1596.9" y2="3648.0" stroke="#000" stroke-width="3.6" stroke-linecap="butt"/>
<line x1="1682.5" y1="3639.0" x2="1682.5" y2="3656.0" stroke="#000" stroke-width="3.6" stroke-linecap="butt"/>
<text x="1615.6" y="3715.0" font-size="60.0">1650</text>
<line x1="1768.1" y1="3639.0" x2="1768.1" y2="3648.0" stroke="#000" stroke-width="3.6" stroke-linecap="butt"/>
<text x="1786.8" y="3715.0" font-size="60.0">1700</text>
<line x1="1031.5" y1="3667.6" x2="1064.6" y2="3623.8" stroke="#000" stroke-width="4.2" stroke-linecap="butt"/>
<line x1="1064.6" y1="3664.5" x2="1097.6" y2="3620.7" stroke="#000" stroke-width="4.2" stroke-linecap="butt"/>
<path d="M206.9,3614.1 C215.8,3613.2 244.5,3610.8 260.0,3608.9 C275.5,3607.0 286.7,3605.1 300.0,3602.9 C313.3,3600.7 327.9,3598.1 339.9,3595.9 C351.9,3593.7 364.6,3591.4 371.9,3589.9 C379.2,3588.4 378.6,3589.2 383.9,3586.9 C389.2,3584.6 396.2,3579.9 403.9,3575.9 C411.6,3571.9 422.2,3567.2 429.9,3562.9 C437.5,3558.6 443.1,3554.7 449.8,3549.9 C456.5,3545.1 463.1,3540.3 469.8,3534.0 C476.5,3527.7 484.0,3519.0 489.8,3512.0 C495.6,3505.0 499.1,3499.1 504.4,3492.0 C509.7,3484.9 516.5,3474.5 521.7,3469.5 C526.9,3464.5 529.2,3464.5 535.5,3461.9 C541.8,3459.3 553.4,3457.2 559.7,3453.9 C566.1,3450.6 570.1,3445.8 573.6,3441.8 C577.1,3437.8 576.5,3437.5 580.5,3429.7 C584.5,3421.9 592.0,3407.0 597.8,3395.1 C603.6,3383.2 609.9,3367.2 615.1,3358.0 C620.3,3348.8 624.9,3343.8 628.9,3340.0 C632.9,3336.2 635.5,3334.6 639.0,3335.3 C642.5,3336.0 645.9,3336.1 649.7,3344.0 C653.5,3351.9 657.8,3367.6 661.9,3382.9 C666.0,3398.2 669.9,3418.2 674.3,3435.9 C678.7,3453.6 683.1,3471.9 688.4,3489.0 C693.7,3506.1 699.6,3524.4 706.1,3538.5 C712.6,3552.6 718.5,3563.8 727.3,3573.8 C736.1,3583.8 746.1,3592.1 759.1,3598.6 C772.1,3605.1 787.4,3609.2 805.1,3612.7 C822.8,3616.2 840.5,3617.7 865.2,3619.8 C890.0,3621.9 923.2,3623.6 953.6,3625.1 C984.0,3626.6 1031.7,3628.0 1047.3,3628.6" fill="none" stroke="#ff0000" stroke-width="3.4" stroke-linejoin="round" stroke-linecap="round"/>
<path d="M206.9,3603.7 C211.5,3602.7 224.2,3600.3 234.6,3597.5 C245.0,3594.7 258.3,3590.9 269.2,3587.1 C280.1,3583.3 291.5,3579.1 300.0,3574.9 C308.5,3570.7 313.4,3566.4 320.0,3561.9 C326.6,3557.4 333.9,3552.6 339.9,3547.9 C345.9,3543.2 350.9,3539.3 355.9,3534.0 C360.9,3528.7 365.9,3521.7 369.9,3516.0 C373.9,3510.3 376.6,3506.0 379.9,3500.0 C383.2,3494.0 385.1,3491.3 389.9,3480.0 C394.6,3468.7 403.1,3447.9 408.4,3432.3 C413.6,3416.7 417.5,3401.6 421.4,3386.5 C425.3,3371.4 428.8,3354.2 431.8,3341.5 C434.8,3328.8 436.6,3323.0 439.5,3310.0 C442.4,3297.0 446.0,3281.1 449.0,3263.6 C452.0,3246.1 454.8,3223.2 457.7,3204.8 C460.6,3186.4 463.7,3166.8 466.3,3153.0 C468.9,3139.2 470.4,3130.5 473.3,3121.8 C476.2,3113.2 479.0,3106.3 483.6,3101.1 C488.2,3095.9 495.7,3091.6 500.9,3090.7 C506.1,3089.8 510.2,3091.3 514.8,3095.9 C519.4,3100.5 524.6,3110.1 528.6,3118.4 C532.6,3126.8 535.8,3135.6 539.0,3146.0 C542.2,3156.4 544.4,3167.9 547.6,3180.6 C550.8,3193.3 554.2,3210.0 558.0,3222.1 C561.8,3234.2 566.1,3246.5 570.1,3253.3 C574.1,3260.1 578.2,3263.0 582.2,3263.0 C586.2,3263.0 590.0,3259.0 594.3,3253.3 C598.6,3247.6 603.6,3237.1 608.2,3229.0 C612.8,3220.9 617.9,3210.5 622.0,3204.8 C626.1,3199.1 629.4,3195.6 633.0,3195.0 C636.6,3194.4 639.9,3195.6 643.5,3201.0 C647.1,3206.4 651.4,3216.4 654.8,3227.3 C658.1,3238.2 660.6,3250.9 663.6,3266.2 C666.6,3281.5 669.5,3300.9 672.5,3319.2 C675.5,3337.5 678.1,3357.5 681.3,3375.8 C684.5,3394.1 687.8,3411.2 691.9,3428.9 C696.0,3446.6 700.8,3465.4 706.1,3481.9 C711.4,3498.4 716.7,3513.8 723.8,3527.9 C730.9,3542.1 738.5,3555.6 748.5,3566.8 C758.5,3578.0 770.4,3587.3 783.9,3595.0 C797.4,3602.7 813.3,3608.3 829.8,3612.7 C846.3,3617.1 862.3,3619.2 882.9,3621.6 C903.5,3624.0 926.2,3625.4 953.6,3626.9 C981.0,3628.4 1031.7,3629.8 1047.3,3630.4" fill="none" stroke="#000000" stroke-width="3.4" stroke-linejoin="round" stroke-linecap="round"/>
<path d="M1083.5,3614.1 C1091.1,3613.9 1112.9,3613.8 1129.2,3613.0 C1145.5,3612.2 1163.8,3610.9 1181.1,3609.6 C1198.4,3608.3 1215.7,3606.8 1233.0,3605.1 C1250.3,3603.4 1268.7,3600.9 1284.8,3599.2 C1300.9,3597.5 1320.0,3596.4 1329.8,3594.7 C1339.6,3593.0 1338.4,3593.0 1343.6,3588.8 C1348.8,3584.7 1355.7,3574.7 1360.9,3569.8 C1366.1,3564.9 1370.2,3561.6 1374.8,3559.4 C1379.4,3557.2 1384.3,3557.8 1388.6,3556.7 C1392.9,3555.5 1396.7,3556.7 1400.7,3552.5 C1404.7,3548.3 1408.5,3541.0 1412.8,3531.8 C1417.1,3522.6 1422.7,3506.1 1426.7,3497.2 C1430.7,3488.2 1433.5,3479.5 1437.0,3478.1 C1440.5,3476.7 1443.4,3484.9 1447.4,3488.5 C1451.4,3492.1 1457.2,3500.2 1461.2,3499.9 C1465.2,3499.6 1468.4,3495.9 1471.6,3486.8 C1474.8,3477.7 1477.4,3462.0 1480.3,3445.3 C1483.2,3428.6 1486.5,3402.8 1488.9,3386.5 C1491.3,3370.2 1492.7,3365.8 1494.8,3347.8 C1496.9,3329.8 1499.4,3307.4 1501.7,3278.6 C1504.0,3249.8 1506.6,3203.6 1508.6,3174.8 C1510.6,3146.0 1512.1,3126.4 1513.8,3105.7 C1515.5,3084.9 1517.6,3062.1 1519.0,3050.3 C1520.4,3038.5 1520.8,3039.1 1522.0,3035.0 C1523.2,3030.9 1524.6,3025.4 1526.0,3025.6 C1527.4,3025.8 1529.3,3031.9 1530.6,3036.0 C1531.8,3040.1 1532.3,3041.3 1533.5,3050.0 C1534.7,3058.7 1536.4,3067.6 1538.0,3088.4 C1539.6,3109.2 1541.2,3146.0 1543.2,3174.8 C1545.2,3203.6 1547.8,3233.6 1550.1,3261.3 C1552.4,3289.0 1554.8,3319.7 1557.0,3340.9 C1559.2,3362.1 1560.5,3370.2 1563.0,3388.4 C1565.5,3406.6 1568.6,3429.3 1572.2,3449.8 C1575.8,3470.3 1579.4,3493.4 1584.5,3511.3 C1589.6,3529.2 1595.8,3544.7 1603.0,3557.5 C1610.2,3570.3 1617.3,3580.0 1627.6,3588.2 C1637.8,3596.4 1648.1,3602.3 1664.5,3606.7 C1680.9,3611.0 1694.8,3612.3 1726.0,3614.3 C1757.2,3616.3 1831.0,3618.1 1852.0,3618.9" fill="none" stroke="#ff0000" stroke-width="3.4" stroke-linejoin="round" stroke-linecap="round"/>
<path d="M1083.5,3590.6 C1091.1,3588.9 1115.2,3584.8 1129.2,3580.2 C1143.2,3575.6 1155.7,3568.9 1167.2,3562.9 C1178.7,3556.9 1189.2,3550.8 1198.4,3543.9 C1207.6,3537.0 1215.7,3528.3 1222.6,3521.4 C1229.5,3514.5 1234.7,3509.3 1239.9,3502.4 C1245.1,3495.5 1249.3,3488.6 1253.7,3479.9 C1258.1,3471.2 1262.7,3458.3 1266.1,3450.0 C1269.5,3441.7 1271.5,3436.3 1274.2,3429.9 C1276.9,3423.5 1279.6,3417.8 1282.3,3411.4 C1285.0,3405.1 1287.8,3398.1 1290.3,3391.8 C1292.8,3385.5 1295.2,3379.4 1297.3,3373.4 C1299.4,3367.4 1301.1,3361.5 1303.0,3356.1 C1304.9,3350.7 1307.1,3346.3 1308.8,3341.1 C1310.5,3335.9 1312.1,3330.4 1313.4,3325.0 C1314.8,3319.6 1315.8,3314.0 1316.9,3308.8 C1318.1,3303.6 1319.2,3298.8 1320.3,3293.8 C1321.4,3288.8 1322.6,3283.8 1323.8,3278.8 C1325.0,3273.8 1326.2,3268.6 1327.2,3263.8 C1328.2,3259.0 1328.1,3258.5 1329.5,3250.0 C1330.9,3241.5 1333.5,3226.0 1335.7,3212.9 C1337.9,3199.8 1340.3,3184.1 1342.6,3171.4 C1344.9,3158.7 1346.6,3146.0 1349.5,3136.8 C1352.4,3127.6 1356.7,3120.5 1359.9,3116.0 C1363.1,3111.5 1365.6,3111.0 1368.5,3109.8 C1371.4,3108.7 1374.6,3111.5 1377.2,3109.1 C1379.8,3106.7 1381.8,3102.8 1384.1,3095.3 C1386.4,3087.8 1388.7,3076.8 1391.0,3064.1 C1393.3,3051.4 1395.7,3032.5 1398.0,3019.0 C1400.3,3005.5 1402.8,2990.5 1404.9,2982.9 C1407.0,2975.3 1408.6,2972.9 1410.7,2973.7 C1412.8,2974.5 1415.3,2978.3 1417.6,2987.5 C1419.9,2996.7 1422.2,3013.5 1424.5,3029.0 C1426.8,3044.5 1428.9,3065.5 1431.5,3080.5 C1434.1,3095.5 1437.3,3114.0 1440.1,3118.8 C1442.9,3123.6 1446.1,3115.6 1448.1,3109.1 C1450.1,3102.6 1450.0,3094.2 1452.2,3079.7 C1454.4,3065.2 1458.3,3043.2 1461.4,3022.1 C1464.5,3001.0 1467.9,2975.9 1470.6,2952.9 C1473.3,2929.9 1475.4,2901.9 1477.5,2883.8 C1479.6,2865.8 1481.8,2852.1 1483.3,2844.6 C1484.8,2837.1 1485.4,2838.0 1486.8,2838.8 C1488.2,2839.6 1489.9,2839.8 1491.4,2849.2 C1492.9,2858.6 1494.5,2876.9 1496.0,2895.3 C1497.5,2913.7 1499.1,2938.7 1500.6,2959.8 C1502.1,2980.9 1503.8,3002.1 1505.2,3022.1 C1506.6,3042.1 1507.6,3056.0 1508.7,3079.7 C1509.8,3103.4 1510.4,3137.1 1512.1,3164.5 C1513.8,3191.9 1516.7,3222.1 1519.0,3244.0 C1521.3,3265.9 1523.6,3278.6 1525.9,3295.9 C1528.2,3313.2 1530.5,3331.3 1532.8,3347.8 C1535.1,3364.3 1537.5,3380.6 1540.0,3395.0 C1542.5,3409.4 1543.8,3418.7 1547.6,3434.5 C1551.4,3450.3 1557.3,3473.4 1563.0,3489.8 C1568.7,3506.2 1574.8,3520.6 1581.5,3532.9 C1588.2,3545.2 1594.3,3554.9 1603.0,3563.6 C1611.7,3572.3 1622.4,3578.9 1633.7,3585.1 C1645.0,3591.2 1655.2,3596.1 1670.6,3600.5 C1686.0,3604.9 1706.5,3608.5 1726.0,3611.3 C1745.5,3614.1 1766.5,3615.9 1787.5,3617.4 C1808.5,3618.9 1841.2,3620.0 1852.0,3620.5" fill="none" stroke="#000000" stroke-width="3.4" stroke-linejoin="round" stroke-linecap="round"/>
<line x1="226.8" y1="2821.3" x2="380.5" y2="2821.3" stroke="#000" stroke-width="4.8" stroke-linecap="butt"/>
<line x1="226.8" y1="2904.0" x2="380.5" y2="2904.0" stroke="#ff0000" stroke-width="4.8" stroke-linecap="butt"/>
<text x="379.6" y="2843.0" font-size="65.0" font-weight="bold">SWCNT</text>
<text x="398.1" y="2925.3" font-size="65" font-weight="bold">CoI<tspan font-size="45.5" dy="20">2</tspan><tspan dy="-20">@SWCNT</tspan></text>
<text x="816.1" y="2730.4" font-size="85" font-weight="bold">E<tspan font-size="54" dy="27">ex</tspan><tspan dy="-27">= 1.58 eV</tspan></text>
<text x="29.4" y="2729.0" font-size="122.0" font-weight="bold">(c)</text>
<text transform="translate(160,3134.0) rotate(-90)" text-anchor="middle" font-size="85.5" font-weight="bold">Intensity, a. u.</text>
<text x="692.2" y="3841.2" font-size="86.5" font-weight="bold">Raman shift, cm<tspan font-size="50" dy="-29">-1</tspan></text>
<text x="740.2" y="3281.0" font-size="62.0" font-weight="bold">RBM-band</text>
<text x="1587.4" y="3142.0" font-size="62.0" font-weight="bold">G-band</text>
<text x="459.5" y="3079.8" font-size="54.0">157</text>
<text x="586.1" y="3187.5" font-size="54.0">171</text>
<text x="566.7" y="3322.5" font-size="54.0">172</text>
<text x="474.3" y="3439.5" font-size="54.0">159</text>
<text x="1425.0" y="2824.5" font-size="54.0">1593</text>
<text x="1337.9" y="2964.0" font-size="54.0">1571</text>
<text x="1251.3" y="3096.5" font-size="54.0">1556</text>
<text x="1512.1" y="3012.8" font-size="54.0">1604</text>
<text x="1343.0" y="3467.3" font-size="54.0">1577</text>
<text x="1266.2" y="3545.8" font-size="54.0">1560</text>
</svg></body></html>
